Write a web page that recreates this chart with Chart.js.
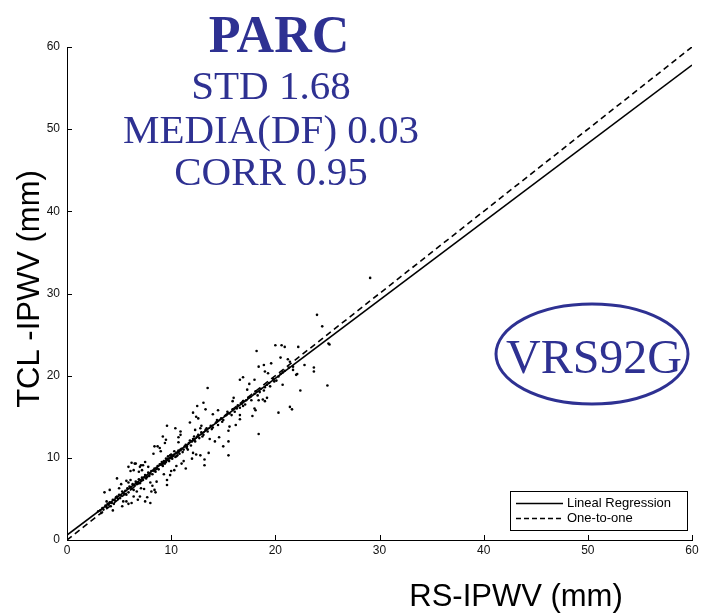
<!DOCTYPE html>
<html>
<head>
<meta charset="utf-8">
<script src="https://cdn.jsdelivr.net/npm/chart.js@4"></script>
<style>
  html, body { margin: 0; padding: 0; background: #fff; }
  #wrap { width: 706px; height: 614px; }
</style>
</head>
<body>
<div id="wrap"><canvas id="scatterChart" width="706" height="614"></canvas></div>
<script>
// valores
const xTicks = [0, 10, 20, 30, 40, 50, 60];
const yTicks = [0, 10, 20, 30, 40, 50, 60];

// RS-IPWV (x) y TCL-IPWV (y)
const puntosX = [
  3.0, 3.2, 3.4, 3.5, 3.7, 3.8, 4.0, 4.1, 4.3, 4.4, 4.6, 4.7, 4.9, 5.0, 5.2, 5.3, 5.5, 5.6, 5.8, 5.9,
  6.0, 6.2, 6.3, 6.5, 6.6, 6.8, 6.9, 7.0, 7.2, 7.3, 7.5, 7.6, 7.8, 7.9, 8.1, 8.2, 8.4, 8.5, 8.7, 8.8,
  9.0, 9.1, 9.2, 9.3, 9.4, 9.5, 9.6, 9.7, 9.8, 9.9, 10.0, 10.1, 10.2, 10.3, 10.4, 10.5, 10.6, 10.7, 10.8, 11.0,
  11.1, 11.3, 11.5, 11.7, 11.9, 12.1, 12.3, 12.5, 12.7, 12.9, 13.1, 13.3, 13.5, 13.8, 14.0, 14.3, 14.5, 14.8, 15.0, 15.3,
  15.6, 15.9, 16.1, 16.4, 16.6, 16.9, 17.1, 17.4, 17.7, 18.0, 18.3, 18.6, 18.9, 19.2, 19.5, 19.8, 20.1, 20.5, 20.9, 21.3,
  21.7,
  24.0, 24.5, 25.1, 25.0, 23.7, 23.7, 22.4, 22.8, 22.2, 21.4, 21.6, 20.3, 20.0, 20.6, 20.9, 20.5, 21.4, 21.7, 22.1, 18.2,
  18.4, 18.9, 19.0, 18.4, 16.9, 16.6, 18.0, 18.4, 18.8, 19.2, 19.0, 18.0, 18.1, 16.6, 16.6, 16.9, 15.6, 15.5, 15.5, 15.5,
  15.0, 13.5, 12.5, 13.1, 13.3, 12.1, 12.4, 9.6, 10.4, 9.2, 9.5, 8.4, 8.7, 8.9, 10.7, 10.7, 11.5, 11.6, 12.0, 12.2,
  12.3, 12.8, 12.9, 12.1, 12.4, 12.8, 11.4, 13.2, 13.2, 9.9, 9.6, 9.6, 8.6, 8.5, 8.4, 8.0, 7.5, 7.7, 6.7, 7.0,
  6.4, 6.2, 5.9, 5.7, 5.4, 6.2, 6.5, 5.9, 7.0, 7.3, 7.8, 6.1, 6.4, 6.9, 7.2, 5.7, 5.9, 6.1, 4.8, 3.6,
  4.1, 3.8, 4.1, 4.4, 8.0, 8.2, 29.1, 25.2, 21.2, 22.0, 14.2, 14.0, 14.5, 13.7, 11.0, 10.5, 10.9, 9.0, 7.5, 7.4,
  5.0, 9.3, 10.3, 16.0, 17.3, 19.6, 17.8, 15.9, 20.7,
  3.3, 3.9, 4.2, 4.5, 4.8, 5.1, 5.4, 5.7, 6.1, 6.4, 6.7, 7.1, 7.4, 7.7, 8.0, 8.3, 8.6, 8.9, 9.2, 9.5,
  9.7, 9.9, 10.1, 10.3, 10.5, 10.7, 10.9, 11.2, 11.4, 11.8, 12.2, 12.6, 13.0, 13.4, 13.9, 14.4, 14.9, 15.4, 15.8, 16.3,
  16.8, 17.2, 17.6, 18.1, 18.5, 19.0, 19.4, 19.9, 20.3, 20.7,
  5.2, 6.6, 7.1, 6.8, 8.3, 9.4, 10.9, 11.8, 12.6, 13.6, 14.6, 16.2, 17.5, 19.3, 8.1, 7.1, 5.3, 10.0, 11.2, 12.0
];
const puntosY = [
  3.5, 3.6, 3.9, 3.7, 4.2, 4.0, 4.3, 4.6, 4.5, 4.9, 4.8, 5.2, 5.0, 5.5, 5.4, 5.9, 5.6, 6.0, 6.3, 5.8,
  6.5, 6.2, 6.8, 6.6, 7.1, 7.0, 7.4, 6.9, 7.6, 7.3, 7.9, 7.5, 8.2, 7.8, 8.4, 8.0, 8.7, 8.3, 9.0, 8.6,
  9.2, 9.5, 9.0, 9.6, 9.3, 9.9, 9.7, 10.2, 9.6, 10.0, 10.4, 9.9, 10.3, 10.8, 10.1, 10.6, 10.3, 10.9, 10.5, 11.1,
  10.7, 11.4, 11.2, 11.8, 11.5, 12.3, 12.0, 12.6, 12.4, 13.1, 12.8, 13.4, 13.2, 13.9, 13.7, 14.3, 14.0, 14.8, 14.6, 15.2,
  15.4, 15.9, 15.6, 16.4, 16.1, 16.9, 16.5, 17.3, 17.0, 17.8, 17.6, 18.4, 18.2, 18.9, 18.7, 19.6, 19.4, 20.2, 20.6, 21.0,
  21.1,
  27.4, 26.0, 23.9, 18.8, 21.0, 20.5, 18.2, 21.3, 23.5, 16.2, 15.9, 15.5, 23.7, 23.7, 23.5, 22.2, 21.7, 20.7, 20.2, 23.0,
  21.1, 21.3, 20.5, 12.9, 19.8, 19.5, 19.5, 17.0, 17.1, 17.3, 16.9, 16.0, 15.8, 15.2, 14.7, 16.3, 13.8, 13.3, 12.0, 10.3,
  11.4, 18.5, 16.3, 16.7, 15.9, 15.5, 15.0, 13.9, 13.6, 12.6, 12.2, 11.4, 11.4, 11.2, 12.5, 11.9, 11.4, 11.0, 12.0, 12.6,
  13.4, 13.6, 13.9, 10.6, 10.4, 10.3, 8.7, 9.8, 9.1, 7.9, 7.3, 6.7, 7.1, 5.8, 6.1, 4.5, 4.7, 5.2, 5.9, 5.3,
  5.3, 4.5, 4.4, 4.7, 4.7, 9.4, 9.3, 8.9, 8.9, 9.1, 8.9, 8.4, 8.5, 8.3, 8.5, 7.2, 7.0, 7.3, 7.5, 5.8,
  6.1, 4.7, 4.5, 3.6, 7.0, 6.6, 31.9, 23.8, 22.0, 20.1, 12.0, 15.3, 15.8, 12.3, 9.3, 9.0, 12.8, 10.8, 9.5, 6.2,
  6.3, 8.0, 8.5, 17.3, 18.3, 21.5, 15.1, 16.9, 18.9,
  3.3, 4.4, 4.1, 4.4, 5.3, 5.1, 5.7, 5.5, 6.4, 6.1, 6.8, 7.2, 7.6, 7.7, 8.1, 8.5, 8.8, 9.2, 9.4, 9.5,
  9.9, 10.3, 10.2, 10.4, 10.2, 10.7, 11.0, 11.0, 11.6, 12.1, 12.2, 12.8, 12.6, 13.6, 13.5, 14.6, 14.4, 15.6, 15.2, 16.0,
  16.6, 17.0, 17.4, 18.1, 18.0, 18.6, 19.1, 19.3, 19.9, 20.4,
  6.8, 9.3, 9.1, 4.9, 10.5, 11.8, 13.2, 14.3, 14.8, 10.6, 12.5, 14.0, 19.0, 20.3, 5.9, 6.3, 4.1, 8.4, 9.6, 9.9
];

// extremos de las rectas
const regresionX = [0, 60];
const regresionY = [0.6, 57.8];
const unoAunoX = [0, 60];
const unoAunoY = [0, 60];

const azul = "#2e3192";

const toXY = (xs, ys) => xs.map((x, i) => ({ x: x, y: ys[i] }));

// textos, elipse, leyenda y marcas hacia dentro
const extras = {
  id: "extras",
  afterDraw(chart) {
    const c = chart.ctx;
    const xs = chart.scales.x, ys = chart.scales.y;
    const area = chart.chartArea;

    c.save();
    // marcas de los ejes hacia dentro
    c.strokeStyle = "#000";
    c.lineWidth = 1;
    c.beginPath();
    xTicks.forEach(v => {
      const px = Math.round(xs.getPixelForValue(v)) + 0.5;
      c.moveTo(px, area.bottom);
      c.lineTo(px, area.bottom - 5);
    });
    yTicks.forEach(v => {
      const py = Math.round(ys.getPixelForValue(v)) + 0.5;
      c.moveTo(area.left, py);
      c.lineTo(area.left + 5, py);
    });
    c.stroke();

    // titulos de ejes
    c.fillStyle = "#000";
    c.font = "31px 'Liberation Sans', Arial, sans-serif";
    c.textAlign = "center";
    c.textBaseline = "middle";
    c.fillText("RS-IPWV (mm)", 516, 597);
    c.save();
    c.translate(30, 289);
    c.rotate(-Math.PI / 2);
    c.fillText("TCL -IPWV (mm)", 0, 0);
    c.restore();

    // estadisticas
    c.fillStyle = azul;
    c.textBaseline = "alphabetic";
    c.font = "bold 52px 'Liberation Serif', 'DejaVu Serif', serif";
    c.fillText("PARC", 279, 52);
    c.font = "41px 'Liberation Serif', 'DejaVu Serif', serif";
    c.fillText("STD 1.68", 271, 99);
    c.fillText("MEDIA(DF) 0.03", 271, 143);
    c.fillText("CORR 0.95", 271, 185);

    // elipse VRS92G
    c.strokeStyle = azul;
    c.lineWidth = 3;
    c.beginPath();
    c.ellipse(592, 354, 96, 50, 0, 0, Math.PI * 2);
    c.stroke();
    c.font = "48px 'Liberation Serif', 'DejaVu Serif', serif";
    c.fillText("VRS92G", 594, 373);

    // leyenda
    c.fillStyle = "#fff";
    c.fillRect(510.5, 491.5, 177, 39);
    c.strokeStyle = "#000";
    c.lineWidth = 1;
    c.strokeRect(510.5, 491.5, 177, 39);
    c.lineWidth = 1.5;
    c.beginPath();
    c.moveTo(516, 503.5);
    c.lineTo(563, 503.5);
    c.stroke();
    c.setLineDash([5, 3]);
    c.beginPath();
    c.moveTo(516, 518.5);
    c.lineTo(563, 518.5);
    c.stroke();
    c.setLineDash([]);
    c.fillStyle = "#000";
    c.font = "13px 'Liberation Sans', Arial, sans-serif";
    c.textAlign = "left";
    c.textBaseline = "middle";
    c.fillText("Lineal Regression", 567, 503);
    c.fillText("One-to-one", 567, 518);
    c.restore();
  }
};

const ctx = document.getElementById("scatterChart").getContext("2d");
const grafico = new Chart(ctx, {
  type: "scatter",
  data: {
    datasets: [
      {
        label: "Lineal Regression",
        type: "line",
        data: toXY(regresionX, regresionY),
        borderColor: "#000",
        borderWidth: 1.6,
        pointRadius: 0,
        fill: false
      },
      {
        label: "One-to-one",
        type: "line",
        data: toXY(unoAunoX, unoAunoY),
        borderColor: "#000",
        borderWidth: 1.6,
        borderDash: [6, 4],
        pointRadius: 0,
        fill: false
      },
      {
        label: "datos",
        data: toXY(puntosX, puntosY),
        pointRadius: 1.3,
        pointBorderWidth: 0,
        backgroundColor: "#000",
        borderColor: "#000"
      }
    ]
  },
  options: {
    responsive: false,
    animation: false,
    layout: { padding: { left: 0, top: 47, right: 14, bottom: 0 } },
    plugins: { legend: { display: false }, tooltip: { enabled: false } },
    scales: {
      x: {
        type: "linear",
        min: 0,
        max: 60,
        afterBuildTicks: s => { s.ticks = xTicks.map(v => ({ value: v })); },
        afterFit: s => { s.height = 74; },
        grid: { display: false, drawTicks: false, tickLength: 0 },
        border: { display: true, color: "#000", width: 1 },
        ticks: { color: "#111", font: { size: 12, family: "'Liberation Sans', Arial" }, padding: 3, maxRotation: 0 }
      },
      y: {
        type: "linear",
        min: 0,
        max: 60,
        afterBuildTicks: s => { s.ticks = yTicks.map(v => ({ value: v })); },
        afterFit: s => { s.width = 67; },
        grid: { display: false, drawTicks: false, tickLength: 0 },
        border: { display: true, color: "#000", width: 1 },
        ticks: { color: "#111", font: { size: 12, family: "'Liberation Sans', Arial" }, padding: 7 }
      }
    }
  },
  plugins: [extras]
});
</script>
</body>
</html>
